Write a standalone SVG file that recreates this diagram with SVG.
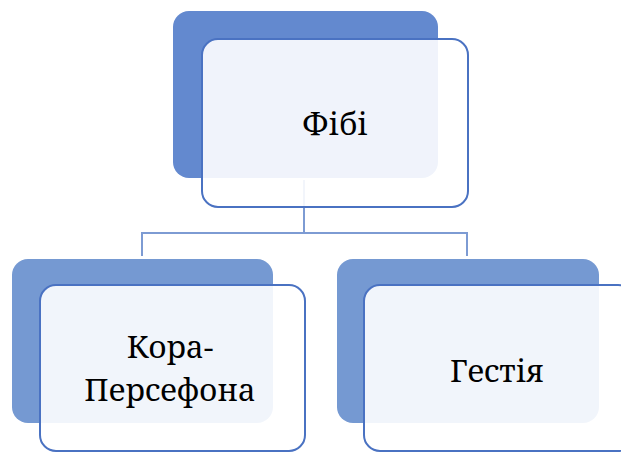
<svg xmlns="http://www.w3.org/2000/svg" width="621" height="452" viewBox="0 0 621 452">
<style>
.back{stroke:none}
.front{fill:#ffffff;fill-opacity:0.9;stroke:#4a72c2;stroke-width:2}
.conn{fill:none;stroke:#7d9bd3;stroke-width:2}
</style>
<rect width="621" height="452" fill="#ffffff"/>
<g id="connectors">
<path class="conn" d="M304 180 V233 M142 256 V233 H467 V256"/>
</g>
<g id="node-fibi">
<rect class="back" x="173" y="11" width="265" height="167" rx="16" fill="#6389cf"/>
<rect class="front" x="202" y="39" width="266" height="168" rx="16"/>
<text font-family="Noto Serif, DejaVu Serif, serif" font-size="31" text-anchor="middle" x="335" y="135">Фібі</text>
</g>
<g id="node-kora">
<rect class="back" x="12" y="259" width="261" height="164" rx="16" fill="#7599d2"/>
<rect class="front" x="40" y="285" width="265" height="166" rx="16"/>
<text font-family="Noto Serif, DejaVu Serif, serif" font-size="31" text-anchor="middle" x="170" y="358">Кора-</text>
<text font-family="Noto Serif, DejaVu Serif, serif" font-size="31" text-anchor="middle" x="170" y="401">Персефона</text>
</g>
<g id="node-hestia">
<rect class="back" x="337" y="259" width="262" height="164" rx="16" fill="#7599d2"/>
<rect class="front" x="364" y="285" width="270" height="166" rx="16"/>
<text font-family="Noto Serif, DejaVu Serif, serif" font-size="31" text-anchor="middle" x="497" y="382">Гестія</text>
</g>
</svg>
